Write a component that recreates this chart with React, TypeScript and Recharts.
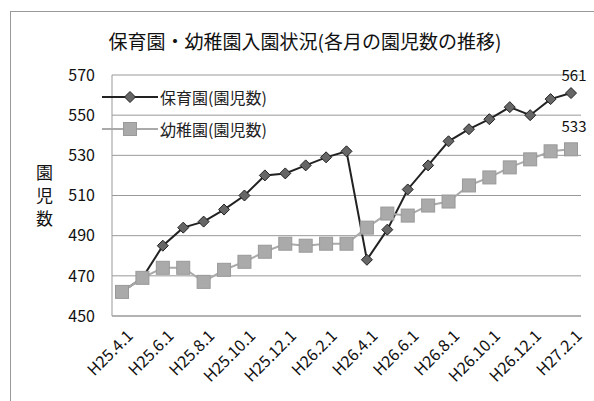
import { CartesianGrid, LabelList, Line, LineChart, XAxis, YAxis } from "recharts";

const months = [
  "H25.4.1", "H25.5.1", "H25.6.1", "H25.7.1", "H25.8.1", "H25.9.1", "H25.10.1", "H25.11.1",
  "H25.12.1", "H26.1.1", "H26.2.1", "H26.3.1", "H26.4.1", "H26.5.1", "H26.6.1", "H26.7.1",
  "H26.8.1", "H26.9.1", "H26.10.1", "H26.11.1", "H26.12.1", "H27.1.1", "H27.2.1",
];
const hoikuen = [462, 469, 485, 494, 497, 503, 510, 520, 521, 525, 529, 532, 478, 493, 513, 525, 537, 543, 548, 554, 550, 558, 561];
const youchien = [462, 469, 474, 474, 467, 473, 477, 482, 486, 485, 486, 486, 494, 501, 500, 505, 507, 515, 519, 524, 528, 532, 533];
const yTicks = [450, 470, 490, 510, 530, 550, 570];

const hoikuenName = "保育園(園児数)";
const youchienName = "幼稚園(園児数)";
const yLabel = ["園", "児", "数"];

const data = months.map((m, i) => ({ month: m, hoikuen: hoikuen[i], youchien: youchien[i] }));

const FONT = "'Noto Sans CJK JP', 'Noto Sans', sans-serif";

const Diamond = (props: any) => {
  const { cx, cy } = props;
  if (cx == null || cy == null) return null;
  const r = 5.5;
  return (
    <polygon
      points={`${cx},${cy - r} ${cx + r},${cy} ${cx},${cy + r} ${cx - r},${cy}`}
      fill="#666"
      stroke="#222"
      strokeWidth={1}
    />
  );
};

const Square = (props: any) => {
  const { cx, cy } = props;
  if (cx == null || cy == null) return null;
  return <rect x={cx - 6.5} y={cy - 6.5} width={13} height={13} fill="#aaa" stroke="#999" strokeWidth={1} />;
};

const XTick = (props: any) => {
  const { x, y, payload } = props;
  return (
    <text
      transform={`translate(${x + 12},${y + 13}) rotate(-45)`}
      textAnchor="end"
      fontSize={16}
      fill="#111"
      fontFamily={FONT}
    >
      {payload.value}
    </text>
  );
};

const lastLabel = (dy: number) => (props: any) => {
  const { x, y, index, value } = props;
  if (index !== months.length - 1) return null;
  return (
    <text x={x + 3} y={y + dy} textAnchor="middle" fontSize={15} fill="#111" fontFamily={FONT}>
      {value}
    </text>
  );
};

export default function App() {
  return (
    <div style={{ position: "absolute", left: 0, top: 0, width: 594, height: 401, overflow: "hidden", background: "#fff" }}>
      <div
        style={{
          position: "absolute",
          left: 10,
          top: 11,
          width: 620,
          height: 420,
          border: "1px solid #999",
          boxSizing: "border-box",
        }}
      />
      <div
        style={{
          position: "absolute",
          left: 0,
          top: 27,
          width: 610,
          textAlign: "center",
          fontFamily: FONT,
          fontSize: 19,
          color: "#111",
        }}
      >
        保育園・幼稚園入園状況(各月の園児数の推移)
      </div>
      {yLabel.map((c, i) => (
        <div
          key={c}
          style={{
            position: "absolute",
            left: 36,
            top: 162 + i * 23,
            fontFamily: FONT,
            fontSize: 17,
            lineHeight: "20px",
            color: "#111",
          }}
        >
          {c}
        </div>
      ))}
      <div style={{ position: "absolute", left: 0, top: 0 }}>
        <LineChart width={594} height={401} data={data} margin={{ top: 75, right: 13, left: 60, bottom: 5 }}>
          <CartesianGrid vertical={false} stroke="#999" />
          <XAxis
            dataKey="month"
            interval={1}
            tick={<XTick />}
            tickLine={false}
            axisLine={{ stroke: "#999" }}
            height={80}
            padding={{ left: 10, right: 10 }}
          />
          <YAxis
            domain={[450, 570]}
            ticks={yTicks}
            width={52}
            tickLine={false}
            tickSize={0}
            tickMargin={17}
            axisLine={{ stroke: "#999" }}
            tick={{ fontSize: 16, fill: "#111", fontFamily: FONT }}
          />
          <Line
            dataKey="hoikuen"
            name={hoikuenName}
            stroke="#222"
            strokeWidth={2}
            dot={<Diamond />}
            activeDot={false}
            isAnimationActive={false}
          >
            <LabelList dataKey="hoikuen" content={lastLabel(-12)} />
          </Line>
          <Line
            dataKey="youchien"
            name={youchienName}
            stroke="#aaa"
            strokeWidth={2}
            dot={<Square />}
            activeDot={false}
            isAnimationActive={false}
          >
            <LabelList dataKey="youchien" content={lastLabel(-17)} />
          </Line>
        </LineChart>
      </div>
      <div style={{ position: "absolute", left: 102, top: 82, fontFamily: FONT, fontSize: 16, color: "#222" }}>
        <div style={{ display: "flex", alignItems: "center", height: 30 }}>
          <svg width={56} height={14}>
            <line x1={0} y1={7} x2={56} y2={7} stroke="#222" strokeWidth={2} />
            <Diamond cx={28} cy={7} />
          </svg>
          <span style={{ marginLeft: 2 }}>{hoikuenName}</span>
        </div>
        <div style={{ display: "flex", alignItems: "center", height: 34 }}>
          <svg width={56} height={14}>
            <line x1={0} y1={7} x2={56} y2={7} stroke="#aaa" strokeWidth={2} />
            <Square cx={28} cy={7} />
          </svg>
          <span style={{ marginLeft: 2 }}>{youchienName}</span>
        </div>
      </div>
    </div>
  );
}
